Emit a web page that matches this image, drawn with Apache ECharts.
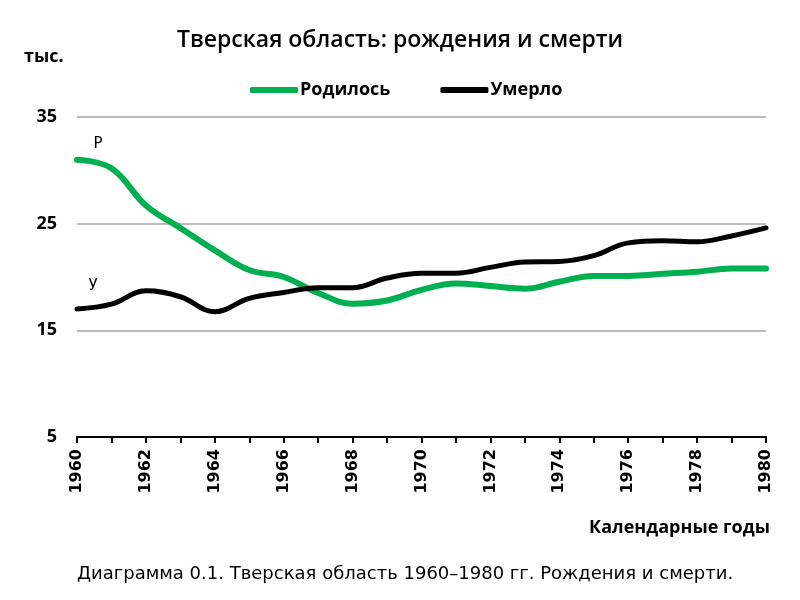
<!DOCTYPE html>
<html>
<head>
<meta charset="utf-8">
<script src="https://cdn.jsdelivr.net/npm/echarts@6/dist/echarts.min.js"></script>
<style>
  html, body { margin: 0; padding: 0; background: #fff; }
  #chart { width: 800px; height: 600px; }
</style>
</head>
<body>
<div id="chart"></div>
<script>
const years = ["1960", "1961", "1962", "1963", "1964", "1965", "1966", "1967", "1968", "1969", "1970",
  "1971", "1972", "1973", "1974", "1975", "1976", "1977", "1978", "1979", "1980"];
const born = [31.0, 30.2, 26.7, 24.6, 22.5, 20.65, 20.0, 18.5, 17.5, 17.8, 18.8,
  19.4, 19.15, 18.9, 19.55, 20.1, 20.1, 20.3, 20.5, 20.8, 20.8];
const died = [17.0, 17.45, 18.7, 18.15, 16.75, 18.0, 18.55, 19.0, 19.0, 19.9, 20.35,
  20.35, 20.9, 21.4, 21.45, 22.0, 23.2, 23.4, 23.3, 23.85, 24.6];
const yTicks = [5, 15, 25, 35];

const green = "#00b050";
const boldFont = "Open Sans";

// short letter tag (Р / У) next to the first point of a series
function tag(text, values, offset) {
  return {
    symbol: "circle", symbolSize: 0, silent: true,
    label: { show: true, position: "inside", formatter: text, offset: offset,
      fontFamily: "DejaVu Sans", fontSize: 15, color: "#000" },
    data: [{ coord: [years[0], values[0]] }]
  };
}

const chart = echarts.init(document.getElementById("chart"));
chart.setOption({
  animation: false,
  backgroundColor: "#fff",
  title: [
    { text: "Тверская область: рождения и смерти", left: "center", top: 24,
      textStyle: { fontFamily: boldFont, fontWeight: 600, fontSize: 23, color: "#000" } },
    { text: "тыс.", left: 19, top: 43,
      textStyle: { fontFamily: boldFont, fontWeight: 700, fontSize: 18, color: "#000" } },
    { text: "Календарные годы", right: 25, top: 514,
      textStyle: { fontFamily: boldFont, fontWeight: 700, fontSize: 18, color: "#000" } },
    { text: "Диаграмма 0.1. Тверская область 1960–1980 гг. Рождения и смерти.", left: 72, top: 560,
      textStyle: { fontFamily: "DejaVu Sans", fontWeight: "normal", fontSize: 18, color: "#000" } }
  ],
  legend: {
    top: 76, left: 245,
    itemWidth: 48, itemHeight: 6, itemGap: 50,
    icon: "roundRect",
    textStyle: { fontFamily: boldFont, fontWeight: 700, fontSize: 18, color: "#000", padding: [0, 0, 0, -3] },
    data: ["Родилось", "Умерло"]
  },
  grid: { left: 77, right: 34, top: 117, bottom: 163 },
  xAxis: {
    type: "category",
    data: years,
    boundaryGap: false,
    axisLine: { lineStyle: { color: "#000", width: 2 } },
    axisTick: { interval: 0, length: 6, lineStyle: { color: "#000", width: 2 } },
    axisLabel: { interval: 1, rotate: 90, margin: 12, fontFamily: "DejaVu Sans", fontWeight: "bold",
      fontSize: 16, color: "#000" },
    splitLine: { show: false }
  },
  yAxis: {
    type: "value",
    min: yTicks[0], max: yTicks[yTicks.length - 1], interval: 10,
    axisLine: { show: false },
    axisTick: { show: false },
    axisLabel: { margin: 20, fontFamily: boldFont, fontWeight: 700, fontSize: 18, color: "#000" },
    splitLine: { lineStyle: { color: "#a6a6a6", width: 1.5 } }
  },
  series: [
    { name: "Родилось", type: "line", smooth: 0.4, showSymbol: false, symbol: "none",
      data: born, markPoint: tag("Р", born, [21, -16]),
      lineStyle: { color: green, width: 6, cap: "round" }, itemStyle: { color: green } },
    { name: "Умерло", type: "line", smooth: 0.4, showSymbol: false, symbol: "none",
      data: died, markPoint: tag("У", died, [16, -23]),
      lineStyle: { color: "#000", width: 5, cap: "round" }, itemStyle: { color: "#000" } }
  ]
});
</script>
</body>
</html>
